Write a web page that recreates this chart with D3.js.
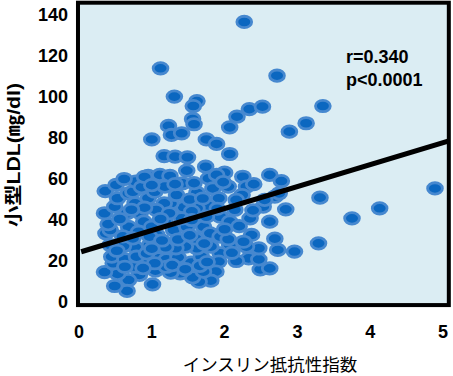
<!DOCTYPE html>
<html>
<head>
<meta charset="utf-8">
<script src="https://cdn.jsdelivr.net/npm/d3@7"></script>
<style>
  body { margin: 0; background: #fff; }
  text { font-family: "Liberation Sans", Arial, sans-serif; }
</style>
</head>
<body>
<svg width="453" height="376"></svg>
<script>
// insulin resistance index vs small dense LDL
const points = [
  [2.27,136.6],[1.12,114],[2.72,110.4],[1.31,100.2],[1.62,98],[1.57,95.6],[2.34,94.1],[2.52,95.3],
  [3.35,95.6],[2.17,90.4],[1.56,89.3],[1.58,86.7],[2.07,85.2],[3.12,87.2],[1.23,85.9],[1.27,81.5],
  [1.41,82.3],[2.89,83.1],[1.0,79.3],[1.75,79.3],[1.89,77.1],[2.07,72.2],[1.17,71.2],[1.32,70.9],
  [1.49,70.6],[1.74,66],[1.48,64.1],[2.0,63.1],[2.25,61.1],[2.62,62],[2.78,59],[4.89,55.4],
  [3.31,50.9],[4.13,45.7],[3.75,40.8],[2.84,45.2],[2.62,39.2],[3.29,28.6],[2.96,24.6],[2.73,25.4],
  [2.69,30.9],[2.37,32.7],[2.35,40.8],[2.53,46.5],[2.69,51.4],[2.49,15.9],[2.62,16.4],[2.33,21.3],
  [2.47,20.8],[2.47,26.2],[2.30,27],[2.16,20],[2.07,27.8],[1.94,23.7],[1.92,19.7],[1.88,14.8],
  [1.81,10.4],[1.65,9.9],[1.56,12],[1.71,14.8],[1.39,14],[1.26,14.3],[1.01,8.6],[1.05,15.3],
  [0.83,13.2],[0.68,10.7],[0.66,5.4],[0.49,7.8],[0.53,13.7],[0.35,14.6],[0.47,18.9],[0.45,22.1],
  [0.63,20.8],[0.77,17.2],[0.92,20.5],[1.09,21.3],[1.20,20.8],[1.36,21.8],[1.54,19.2],[1.68,22.1],
  [1.81,27],[1.62,26.2],[1.46,27],[1.33,26.2],[1.19,26.7],[0.97,27.8],[0.77,26.7],[0.61,27.3],
  [0.43,27.8],[0.37,33.5],[0.43,35.1],[0.40,38],[0.35,43.3],[0.49,46.5],[0.53,50.6],[0.36,54.1],
  [0.51,57.1],[0.68,53],[0.74,53.8],[0.78,58.7],[0.95,61.5],[1.11,62],[1.25,61.5],[1.42,57.9],
  [1.62,53.3],[1.78,60.3],[1.89,62],[1.84,55.4],[2.05,56.3],[2.30,56.3],[2.24,52.2],[2.16,49.8],
  [1.92,50.6],[1.78,46.8],[1.62,45.7],[1.44,46.2],[1.26,48.1],[1.17,48.1],[1.06,44.9],[0.95,50.6],
  [1.04,53.8],[1.18,56.3],[1.34,52.2],[0.77,48.1],[0.66,43.3],[0.84,43.3],[0.89,39.2],[0.68,36.7],
  [0.82,34.3],[1.0,36.7],[1.18,39.2],[1.30,35.1],[1.48,36.7],[1.71,36.7],[1.60,31],[1.80,33.5],
  [1.94,31.9],[2.05,30.6],[1.94,41.6],[2.07,39.2],[1.75,41.6],[1.55,44.2],[1.41,40.8],[1.24,43.3],
  [1.07,32.7],[0.97,31.9],[0.79,22.1],[0.93,23.7],[1.20,17.2],[1.04,18.9],[0.63,17.2],[1.66,17.6],
  [2.26,29.4],[2.39,44.7],[2.55,49.8],[2.75,53],
  [0.56,40.5],[0.60,32],[0.90,46],[1.12,40.5],[1.36,30.5],[1.52,50],[1.70,50.5],[1.90,45.5],
  [2.00,35.5],[1.32,57.5],[0.86,56],[0.62,60],[0.52,25],[0.74,31],[1.14,30],[1.52,32.5],
  [1.72,28.5],[2.14,45],[2.20,37],[0.90,61],[1.58,58],[1.98,58.5],[2.40,57.5],[1.00,26],
  [1.28,18],[1.46,16],[0.88,16.5],[1.76,19.5],[2.10,24],[0.72,45],[1.00,57],[1.55,40]
];
const xTicks = [0, 1, 2, 3, 4, 5];
const yTicks = [0, 20, 40, 60, 80, 100, 120, 140];
const fit = { intercept: 24.2, slope: 10.7 }; // regression line
const stats = ["r=0.340", "p<0.0001"];
const xTitle = "インスリン抵抗性指数";
const yTitle = "小型LDL(㎎/dl)";

const svg = d3.select("svg");

const x = d3.scaleLinear().domain([0, 5]).range([79, 443]);
const y = d3.scaleLinear().domain([0, 140]).range([302, 15]);

// plot panel
const panel = { x0: x(-0.014), x1: x(5.08), y0: y(146), y1: y(-1.5) };
svg.append("rect")
  .attr("x", panel.x0).attr("y", panel.y0)
  .attr("width", panel.x1 - panel.x0).attr("height", panel.y1 - panel.y0)
  .attr("fill", "#dbedf3");

svg.append("clipPath").attr("id", "clip")
  .append("rect")
  .attr("x", panel.x0).attr("y", panel.y0)
  .attr("width", panel.x1 - panel.x0).attr("height", panel.y1 - panel.y0);

const g = svg.append("g").attr("clip-path", "url(#clip)");

g.selectAll("ellipse.pt")
  .data(points)
  .enter().append("ellipse")
  .classed("pt", true)
  .attr("cx", d => x(d[0]))
  .attr("cy", d => y(d[1]))
  .attr("rx", 7.4)
  .attr("ry", 5.7)
  .attr("fill", "#0b67c0")
  .attr("stroke", "#4688cf")
  .attr("stroke-width", 2.8);

// regression line
const lineX = [0.03, 5.1];
g.append("line")
  .attr("x1", x(lineX[0])).attr("y1", y(fit.intercept + fit.slope * lineX[0]))
  .attr("x2", x(lineX[1])).attr("y2", y(fit.intercept + fit.slope * lineX[1]))
  .attr("stroke", "#000")
  .attr("stroke-width", 5);

// frame
svg.append("rect")
  .attr("x", panel.x0).attr("y", panel.y0)
  .attr("width", panel.x1 - panel.x0).attr("height", panel.y1 - panel.y0)
  .attr("fill", "none")
  .attr("stroke", "#000")
  .attr("stroke-width", 4);

// tick labels
svg.selectAll("text.ytick")
  .data(yTicks)
  .enter().append("text")
  .classed("ytick", true)
  .attr("x", 68)
  .attr("y", d => y(d))
  .attr("dy", "0.36em")
  .attr("text-anchor", "end")
  .attr("font-size", 18)
  .attr("font-weight", "bold")
  .text(d => d);

svg.selectAll("text.xtick")
  .data(xTicks)
  .enter().append("text")
  .classed("xtick", true)
  .attr("x", d => x(d))
  .attr("y", 338)
  .attr("text-anchor", "middle")
  .attr("font-size", 18)
  .attr("font-weight", "bold")
  .text(d => d);

// stats
svg.selectAll("text.stat")
  .data(stats)
  .enter().append("text")
  .classed("stat", true)
  .attr("x", 346)
  .attr("y", (d, i) => 63 + i * 23)
  .attr("font-size", 18)
  .attr("font-weight", "bold")
  .text(d => d);

// axis titles
svg.append("text")
  .attr("x", 270).attr("y", 371)
  .attr("text-anchor", "middle")
  .attr("font-size", 17.5)
  .style("font-family", "'Noto Sans CJK JP', sans-serif")
  .text(xTitle);

svg.append("text")
  .attr("transform", "translate(20,155) rotate(-90)")
  .attr("text-anchor", "middle")
  .attr("font-size", 18)
  .attr("font-weight", "bold")
  .attr("textLength", 144)
  .attr("lengthAdjust", "spacingAndGlyphs")
  .style("font-family", "'Liberation Sans', 'Noto Sans CJK JP', sans-serif")
  .text(yTitle);
</script>
</body>
</html>
